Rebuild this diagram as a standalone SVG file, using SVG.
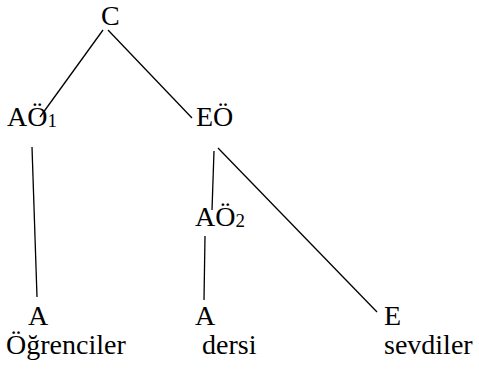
<svg xmlns="http://www.w3.org/2000/svg" width="479" height="382" viewBox="0 0 479 382">
<style>
text{font-family:"Liberation Serif","Times New Roman",serif;font-size:28px;fill:#000}
.sub{font-size:19px}
.e line{stroke:#000;stroke-width:1.3}
</style>
<rect width="479" height="382" fill="#fff"/>
<g class="e" id="connectors">
<line x1="103" y1="30" x2="40" y2="117"/>
<line x1="108" y1="30" x2="192" y2="118"/>
<line x1="32" y1="147" x2="37" y2="297"/>
<line x1="214" y1="151" x2="212" y2="210"/>
<line x1="218" y1="148" x2="377" y2="312"/>
<line x1="205" y1="236" x2="204" y2="300"/>
</g>
<g id="C"><text x="101" y="25">C</text></g>
<g id="AO1"><text x="7" y="126">AÖ<tspan class="sub" dy="1">1</tspan></text></g>
<g id="EO"><text x="196" y="126">EÖ</text></g>
<g id="AO2"><text x="195" y="226">AÖ<tspan class="sub" dy="1">2</tspan></text></g>
<g id="A1"><text x="28" y="325">A</text></g>
<g id="A2"><text x="195" y="325">A</text></g>
<g id="E"><text x="384" y="325">E</text></g>
<g id="w1"><text x="6" y="354">Öğrenciler</text></g>
<g id="w2"><text x="202" y="354">dersi</text></g>
<g id="w3"><text x="384" y="354">sevdiler</text></g>
</svg>
